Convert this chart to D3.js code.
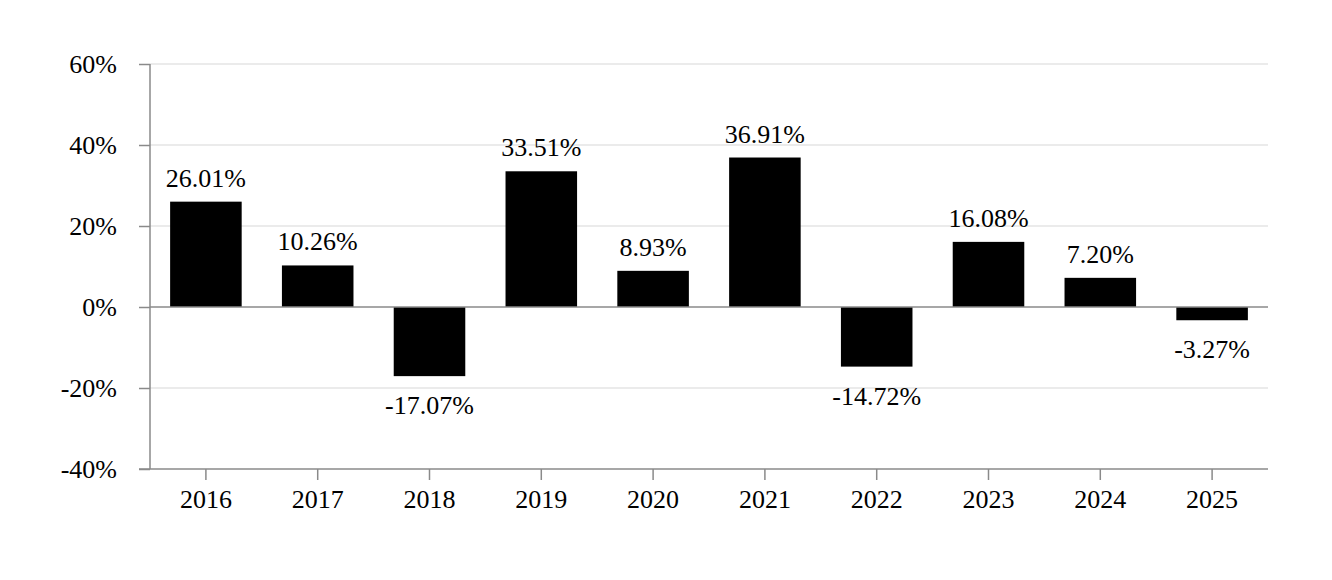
<!DOCTYPE html>
<html><head><meta charset="utf-8">
<script src="https://cdn.jsdelivr.net/npm/d3@7"></script>
<style>body{margin:0;background:#fff}svg{display:block}</style>
</head><body>
<svg id="c" width="1332" height="580"></svg>
<script>
const years = ["2016","2017","2018","2019","2020","2021","2022","2023","2024","2025"];
const returns = [26.01, 10.26, -17.07, 33.51, 8.93, 36.91, -14.72, 16.08, 7.20, -3.27];
const yTicks = [-40, -20, 0, 20, 40, 60];

(function () {
const svg = d3.select("#c");
const mLeft = 150, mRight = 1268, mTop = 64, mBottom = 469;
const font = "'Liberation Serif','Times New Roman',serif";
const fs = 26;

const x = d3.scaleBand().domain(years).range([mLeft, mRight]).paddingInner(0.36).paddingOuter(0.18);
const y = d3.scaleLinear().domain([-40, 60]).range([mBottom, mTop]);

// gridlines
svg.append("g").selectAll("line").data(yTicks.filter(t => t !== 0 && t !== -40)).join("line")
  .attr("x1", mLeft).attr("x2", mRight)
  .attr("y1", d => y(d)).attr("y2", d => y(d))
  .attr("stroke", "#e4e4e4").attr("stroke-width", 1.5);

// bars
svg.append("g").selectAll("rect").data(years).join("rect")
  .attr("x", d => x(d))
  .attr("width", x.bandwidth())
  .attr("y", (d, i) => y(Math.max(0, returns[i])))
  .attr("height", (d, i) => Math.abs(y(returns[i]) - y(0)))
  .attr("fill", "#000");

// zero line
svg.append("line").attr("x1", mLeft).attr("x2", mRight).attr("y1", y(0)).attr("y2", y(0))
  .attr("stroke", "#8a8a8a").attr("stroke-width", 1.5);

// y axis
const yAxis = svg.append("g").attr("transform", `translate(${mLeft},0)`)
  .call(d3.axisLeft(y).tickValues(yTicks).tickFormat(d => d + "%").tickSize(11).tickPadding(22));
yAxis.select(".domain").attr("stroke", "#8a8a8a").attr("stroke-width", 1.5).attr("d", `M0,${mTop}V${mBottom}`);
yAxis.selectAll(".tick line").attr("stroke", "#8a8a8a").attr("stroke-width", 1.5);
yAxis.selectAll(".tick text").attr("font-family", font).attr("font-size", fs).attr("fill", "#000");

// x axis
const xAxis = svg.append("g").attr("transform", `translate(0,${mBottom})`)
  .call(d3.axisBottom(x).tickSize(11).tickPadding(10));
xAxis.select(".domain").attr("stroke", "#8a8a8a").attr("stroke-width", 1.5).attr("d", `M${mLeft - 11},0H${mRight}`);
xAxis.selectAll(".tick line").attr("stroke", "#8a8a8a").attr("stroke-width", 1.5);
xAxis.selectAll(".tick text").attr("font-family", font).attr("font-size", fs).attr("fill", "#000");

// value labels
svg.append("g").selectAll("text").data(years).join("text")
  .attr("x", d => x(d) + x.bandwidth() / 2)
  .attr("y", (d, i) => returns[i] >= 0 ? y(returns[i]) - 15 : y(returns[i]) + 38)
  .attr("text-anchor", "middle")
  .attr("font-family", font).attr("font-size", fs).attr("fill", "#000")
  .text((d, i) => returns[i].toFixed(2) + "%");
})();
</script>
</body></html>
